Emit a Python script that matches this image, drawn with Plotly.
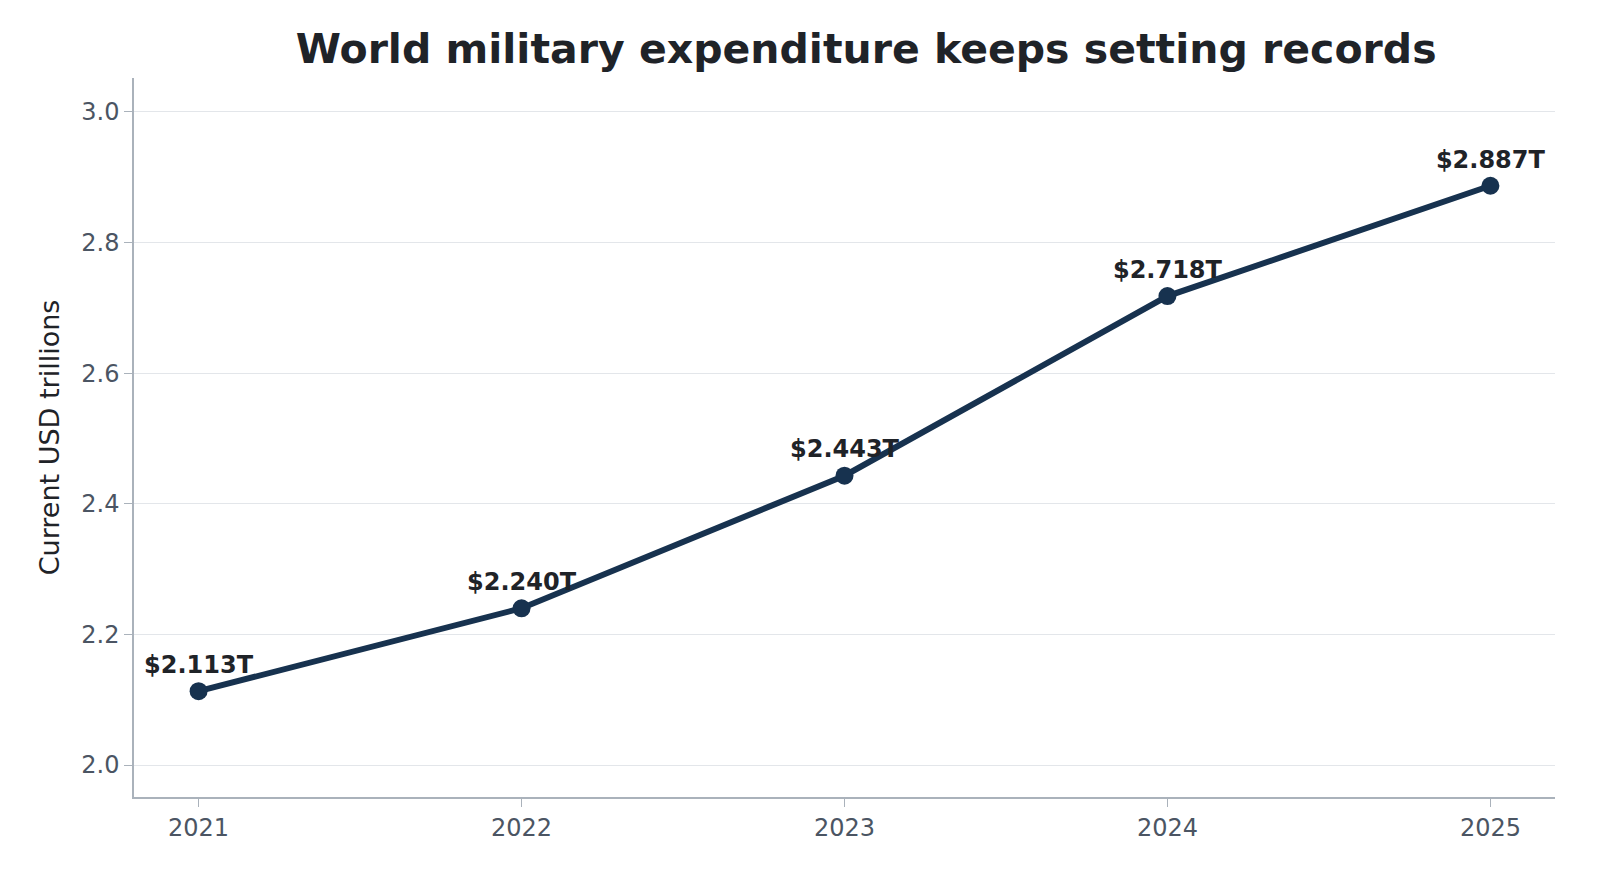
import plotly.graph_objects as go

years = [2021, 2022, 2023, 2024, 2025]
spending = [2.113, 2.240, 2.443, 2.718, 2.887]
labels = ["$%.3fT" % v for v in spending]

fig = go.Figure()
fig.add_trace(go.Scatter(
    x=years, y=spending, mode="lines+markers+text",
    line=dict(color="#17324f", width=6),
    marker=dict(color="#17324f", size=18),
    text=labels, textposition="top center",
    textfont=dict(family="DejaVu Sans", size=24, color="#1f2328", weight="bold"),
    showlegend=False,
))

fig.update_layout(
    width=1604, height=879,
    paper_bgcolor="white", plot_bgcolor="white",
    margin=dict(l=126, r=57, t=70, b=90),
    font=dict(family="DejaVu Sans", color="#4b5563", size=24),
    title=dict(text="<b>World military expenditure keeps setting records</b>",
               x=0.535, xanchor="center", y=0.954, yanchor="middle",
               font=dict(size=41, color="#1f2328")),
)
fig.update_xaxes(range=[2020.8, 2025.2], tickvals=years, showgrid=False,
                 showline=True, linecolor="#aab2bb", linewidth=1.5,
                 ticks="outside", ticklen=8, tickcolor="#aab2bb")
fig.update_yaxes(range=[1.951, 3.052], tickvals=[2.0, 2.2, 2.4, 2.6, 2.8, 3.0],
                 tickformat=".1f", gridcolor="#e3e6ea", zeroline=False,
                 showline=True, linecolor="#aab2bb", linewidth=1.5,
                 ticks="outside", ticklen=8, tickcolor="#aab2bb",
                 title=dict(text="Current USD trillions", standoff=14,
                            font=dict(color="#1f2328", size=27)))

fig.write_html("out.html")
